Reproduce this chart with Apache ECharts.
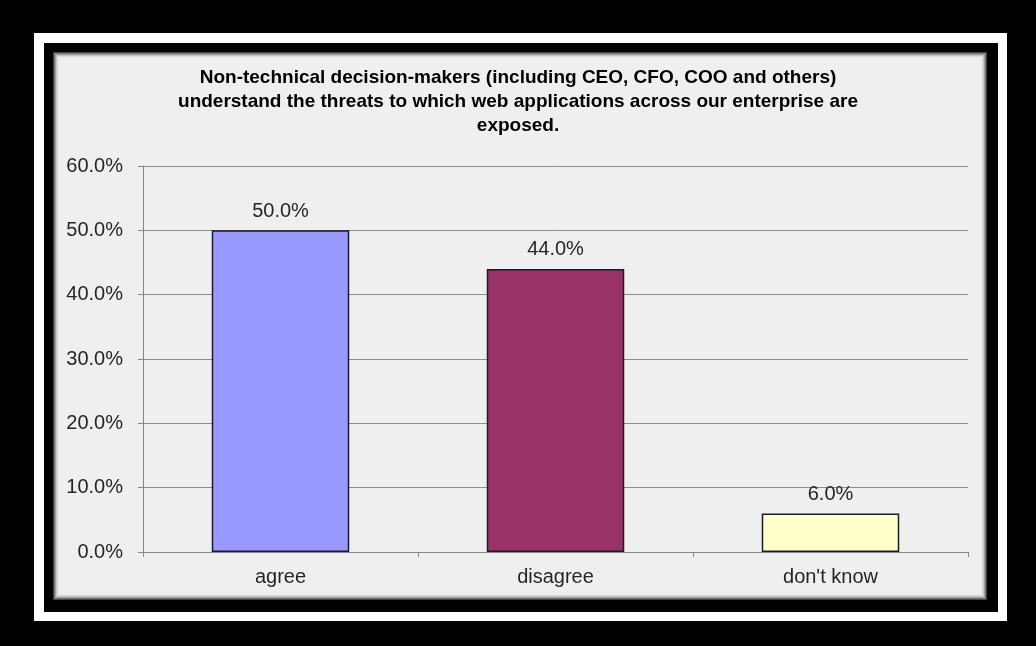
<!DOCTYPE html>
<html><head><meta charset="utf-8">
<script src="https://cdn.jsdelivr.net/npm/echarts@6/dist/echarts.min.js"></script>
<style>html,body{margin:0;padding:0;background:#000;}#c{width:1036px;height:646px;}</style>
</head><body><div id="c"></div>
<script>
const titleText = 'Non-technical decision-makers (including CEO, CFO, COO and others)\nunderstand the threats to which web applications across our enterprise are\nexposed.';
const categories = ['agree', 'disagree', "don't know"];
const values = [50.0, 44.0, 6.0];
const barColors = ['#9999FF', '#993366', '#FFFFCC'];
const yTicks = [0, 10, 20, 30, 40, 50, 60];

const chart = echarts.init(document.getElementById('c'), null, {renderer: 'canvas'});
const font = '"Liberation Sans", Arial, sans-serif';
const bevel = ['#444', '#777', '#a0a0a0', '#c4c4c4', '#dcdcdc', '#e8e8e8', '#efefef'];
const graphics = [
  {type: 'rect', z: -20, shape: {x: 34, y: 33, width: 973, height: 588}, style: {fill: '#fff'}, silent: true},
  {type: 'rect', z: -19, shape: {x: 44, y: 43, width: 954, height: 569}, style: {fill: '#000'}, silent: true}
];
bevel.forEach((c, i) => graphics.push({type: 'rect', z: -18 + i,
  shape: {x: 53 + i, y: 52 + i, width: 934 - 2 * i, height: 548 - 2 * i}, style: {fill: c}, silent: true}));

chart.setOption({
  backgroundColor: '#000',
  animation: false,
  graphic: graphics,
  title: {
    text: titleText,
    left: 'center',
    top: 61,
    textStyle: {fontFamily: '"Liberation Sans Narrow", "Arial Narrow", ' + font, fontSize: 19, fontWeight: 'bold', color: '#000', lineHeight: 24}
  },
  grid: {left: 143, top: 166, right: 68, bottom: 94},
  xAxis: {
    type: 'category',
    data: categories,
    axisLine: {lineStyle: {color: '#888', width: 1}},
    axisTick: {show: true, alignWithLabel: false, length: 5, lineStyle: {color: '#888'}},
    axisLabel: {fontFamily: font, fontSize: 20, color: '#262626', margin: 15}
  },
  yAxis: {
    type: 'value',
    min: 0, max: 60, interval: 10,
    axisLine: {show: true, lineStyle: {color: '#888'}},
    axisTick: {show: true, length: 5, lineStyle: {color: '#888'}},
    splitLine: {lineStyle: {color: '#8c8c8c', width: 1}},
    axisLabel: {fontFamily: font, fontSize: 20, color: '#262626', margin: 20,
      formatter: v => yTicks.includes(v) ? v.toFixed(1) + '%' : ''}
  },
  series: [{
    type: 'bar',
    data: values.map((v, i) => ({value: v, itemStyle: {color: barColors[i]}})),
    barWidth: '50%',
    itemStyle: {borderColor: '#1a1a2e', borderWidth: 1.5},
    label: {show: true, position: 'top', distance: 9, fontFamily: font, fontSize: 20, color: '#262626',
      formatter: p => p.value.toFixed(1) + '%'}
  }]
});
</script></body></html>
